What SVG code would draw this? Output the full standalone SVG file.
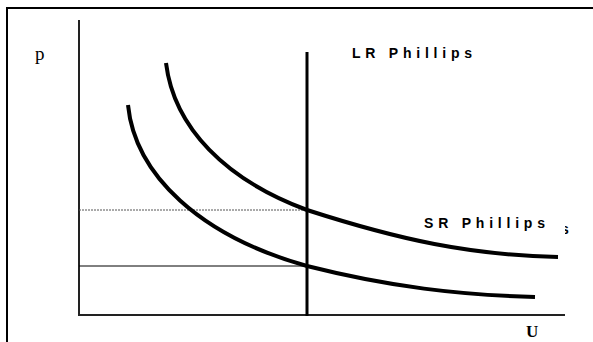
<svg xmlns="http://www.w3.org/2000/svg" width="593" height="342" viewBox="0 0 593 342">
<style>
.frame{fill:none;stroke:#000;stroke-width:2}
.axis{fill:none;stroke:#222;stroke-width:2}
.curve{fill:none;stroke:#000;stroke-width:4;stroke-linecap:butt}
.lr{fill:none;stroke:#000;stroke-width:3}
.guide{fill:none;stroke:#000;stroke-width:1}
.guide2{fill:none;stroke:#555;stroke-width:1;stroke-dasharray:2 1}
.lbl{font-family:"Liberation Sans",Arial,sans-serif;font-weight:bold;font-size:14px;fill:#000}
.ser{font-family:"Liberation Serif","Times New Roman",serif;fill:#000}
</style>
<defs>
<clipPath id="cs"><rect x="565" y="215" width="10" height="20"/></clipPath>
</defs>
<g id="frame">
<path class="frame" d="M7,600 V8 H600"/>
</g>
<g id="axes">
<line class="axis" x1="79" y1="20" x2="79" y2="315"/>
<line class="axis" x1="78" y1="315" x2="565" y2="315"/>
<text class="ser" x="35" y="60" font-size="19">p</text>
<text class="ser" x="526" y="337" font-size="17" font-weight="bold">U</text>
</g>
<g id="connectors">
<line class="guide2" x1="79" y1="210" x2="307" y2="210"/>
<line class="guide" x1="79" y1="266" x2="307" y2="266"/>
</g>
<g id="lr-phillips">
<line class="lr" x1="307" y1="52" x2="307" y2="316"/>
<text class="lbl" x="352" y="58" textLength="120" lengthAdjust="spacing">LR Phillips</text>
</g>
<g id="sr-phillips">
<path class="curve" d="M166,63 C174,128 226,180 307,210 C400,240 470,255 558,257"/>
<path class="curve" d="M128,105 C135,175 200,236 307,266 C390,287 460,295 535,297"/>
<text class="lbl" x="424" y="228" textLength="121" lengthAdjust="spacing">SR Phillips</text>
<text class="lbl" x="561" y="234" clip-path="url(#cs)">s</text>
</g>
</svg>
